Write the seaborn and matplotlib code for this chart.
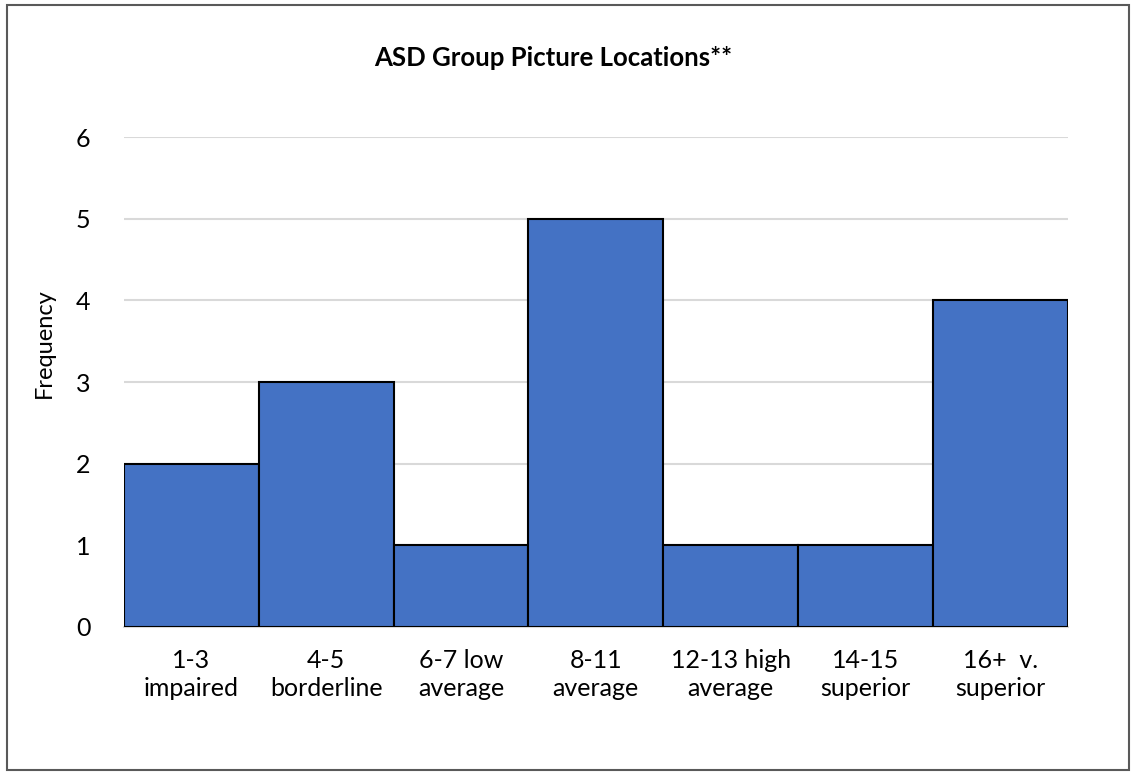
import matplotlib
matplotlib.use("Agg")
import matplotlib.pyplot as plt
import pandas as pd
import seaborn as sns
from matplotlib.patches import Rectangle

categories = ["1-3\nimpaired", "4-5\nborderline", "6-7 low\naverage", "8-11\naverage",
              "12-13 high\naverage", "14-15\nsuperior", "16+  v.\nsuperior"]
frequency = [2, 3, 1, 5, 1, 1, 4]

sns.set_theme(style="white")
plt.rcParams["font.family"] = ["Lato", "DejaVu Sans"]
plt.rcParams["text.color"] = "black"
plt.rcParams["axes.labelcolor"] = "black"

data = pd.DataFrame({"category": categories, "frequency": frequency})

fig = plt.figure(figsize=(11.36, 7.75), dpi=100)
ax = fig.add_axes([0.109, 0.191, 0.831, 0.632])

sns.barplot(data=data, x="category", y="frequency", color="#4472C4", saturation=1,
            width=1.0, edgecolor="black", linewidth=1.5, ax=ax, zorder=3)

ax.set_ylim(0, 6)
ax.set_xlim(-0.5, len(categories) - 0.5)
ax.set_yticks(range(0, 7))
ax.yaxis.grid(True, color="#D9D9D9", linewidth=1.5, zorder=0)
ax.set_axisbelow(True)
for side in ["top", "right", "left"]:
    ax.spines[side].set_visible(False)
ax.spines["bottom"].set_color("#D9D9D9")
ax.spines["bottom"].set_linewidth(1.5)
ax.tick_params(axis="both", length=0, labelsize=18, colors="black")
ax.tick_params(axis="x", pad=16)
ax.tick_params(axis="y", pad=24)
for lab in ax.get_xticklabels():
    lab.set_linespacing(1.25)
ax.set_xlabel("")
ax.set_ylabel("Frequency", fontsize=17, color="black")
ax.yaxis.set_label_coords(-0.073, 0.58)

fig.text(0.487, 0.925, "ASD Group Picture Locations**", ha="center", va="center",
         fontsize=18.5, fontweight="bold", color="black")

fig.patches.append(Rectangle((0.006, 0.006), 0.988, 0.988, transform=fig.transFigure,
                             fill=False, edgecolor="#595959", linewidth=1.5))

fig.savefig("out.png", dpi=100)
